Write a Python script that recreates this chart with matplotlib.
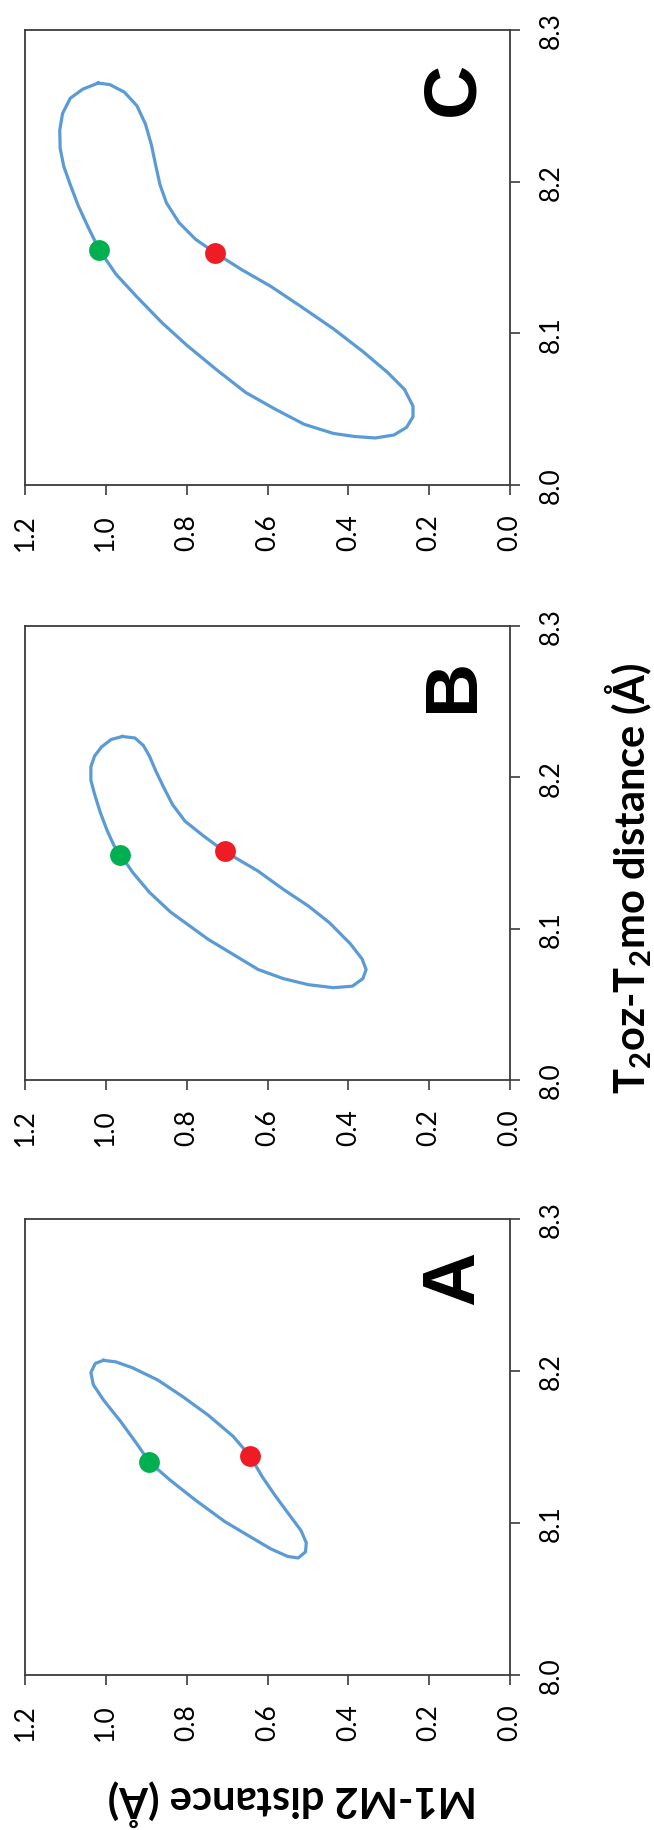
import matplotlib
matplotlib.use("Agg")
import matplotlib.pyplot as plt

plt.rcParams['font.family'] = ['Lato', 'DejaVu Sans']
plt.rcParams['mathtext.fontset'] = 'custom'
plt.rcParams['mathtext.rm'] = 'Lato'
plt.rcParams['mathtext.bf'] = 'Lato:bold'
plt.rcParams['mathtext.default'] = 'bf'

# Panel C: M1-M2 distance vs T2oz-T2mo distance
m1m2_c = [1.019, 1.057, 1.088, 1.107, 1.114, 1.113, 1.104, 1.088, 1.068, 1.042,
          1.016, 0.975, 0.923, 0.861, 0.799, 0.726, 0.654, 0.581, 0.509, 0.437,
          0.385, 0.333, 0.287, 0.256, 0.240, 0.240, 0.261, 0.302, 0.364, 0.437,
          0.519, 0.592, 0.664, 0.729, 0.778, 0.819, 0.850, 0.866, 0.876, 0.887,
          0.902, 0.923, 0.954, 0.990, 1.019]
tt_c = [8.265, 8.261, 8.255, 8.245, 8.234, 8.222, 8.210, 8.198, 8.184, 8.169,
        8.155, 8.139, 8.124, 8.107, 8.092, 8.076, 8.061, 8.050, 8.040, 8.034,
        8.032, 8.031, 8.033, 8.038, 8.045, 8.052, 8.063, 8.074, 8.088, 8.103,
        8.118, 8.131, 8.142, 8.153, 8.162, 8.173, 8.186, 8.198, 8.210, 8.224,
        8.238, 8.250, 8.259, 8.264, 8.265]

# Panel B
m1m2_b = [0.959, 0.987, 1.011, 1.028, 1.037, 1.037, 1.028, 1.014, 0.997, 0.980,
          0.964, 0.933, 0.892, 0.840, 0.809, 0.747, 0.685, 0.623, 0.561, 0.499,
          0.437, 0.390, 0.364, 0.356, 0.366, 0.395, 0.447, 0.499, 0.561, 0.623,
          0.706, 0.757, 0.804, 0.835, 0.858, 0.876, 0.892, 0.907, 0.928, 0.959]
tt_b = [8.227, 8.225, 8.220, 8.214, 8.207, 8.198, 8.189, 8.177, 8.165, 8.155,
        8.149, 8.137, 8.124, 8.111, 8.105, 8.093, 8.083, 8.073, 8.067, 8.063,
        8.061, 8.062, 8.067, 8.073, 8.080, 8.090, 8.104, 8.115, 8.126, 8.138,
        8.151, 8.161, 8.171, 8.182, 8.194, 8.204, 8.214, 8.221, 8.226, 8.227]

# Panel A
m1m2_a = [1.006, 1.026, 1.037, 1.031, 1.006, 0.964, 0.923, 0.892, 0.840, 0.778,
          0.706, 0.643, 0.592, 0.550, 0.524, 0.506, 0.504, 0.517, 0.545, 0.581,
          0.612, 0.643, 0.685, 0.747, 0.809, 0.871, 0.933, 0.975, 1.006]
tt_a = [8.207, 8.205, 8.199, 8.191, 8.181, 8.167, 8.152, 8.140, 8.128, 8.115,
        8.101, 8.091, 8.083, 8.078, 8.077, 8.081, 8.087, 8.095, 8.105, 8.118,
        8.130, 8.144, 8.157, 8.171, 8.183, 8.194, 8.202, 8.206, 8.207]

# start (green) and end (red) states per panel
green_pts = {'A': (0.892, 8.140), 'B': (0.964, 8.149), 'C': (1.016, 8.155)}
red_pts = {'A': (0.643, 8.144), 'B': (0.706, 8.151), 'C': (0.729, 8.153)}

m_ticks = [0.0, 0.2, 0.4, 0.6, 0.8, 1.0, 1.2]
t_ticks = [8.0, 8.1, 8.2, 8.3]

W, H = 654, 1831
fig = plt.figure(figsize=(W / 100, H / 100), dpi=100)

# panel boxes in pixels: left, top, right, bottom
boxes = {'C': (25, 31, 510, 486), 'B': (25, 627, 510, 1081), 'A': (25, 1220, 510, 1676)}
curves = {'C': (m1m2_c, tt_c), 'B': (m1m2_b, tt_b), 'A': (m1m2_a, tt_a)}

spine_col = '#3c3c3c'
for key in ['C', 'B', 'A']:
    l, t, r, b = boxes[key]
    ax = fig.add_axes([l / W, 1 - b / H, (r - l) / W, (b - t) / H])
    m, tt = curves[key]
    ax.plot(m, tt, color='#5b9bd5', lw=2.3, solid_joinstyle='round', zorder=2)
    ax.plot(*green_pts[key], 'o', color='#00b050', ms=15, mec='none', zorder=3)
    ax.plot(*red_pts[key], 'o', color='#ee1c25', ms=15, mec='none', zorder=3)

    ax.set_xlim(1.2, 0.0)
    ax.set_ylim(8.0, 8.3)
    ax.set_xticks(m_ticks)
    ax.set_xticklabels([f'{v:.1f}' for v in m_ticks], rotation=90)
    ax.set_yticks(t_ticks)
    ax.set_yticklabels([f'{v:.1f}' for v in t_ticks], rotation=90, va='center')
    ax.yaxis.tick_right()
    ax.tick_params(direction='out', length=7.5, width=1.2, color=spine_col,
                   labelsize=19, pad=13)
    for s in ax.spines.values():
        s.set_color(spine_col)
        s.set_linewidth(1.3)

    ax.text(0.14, 8.262, key, rotation=90, ha='center', va='center',
            fontsize=54, fontweight='bold', family='Liberation Sans')

fig.text(628 / W, 1 - 878 / H, r'T$_2$oz-T$_2$mo distance (Å)', rotation=90,
         ha='center', va='center', fontsize=30, fontweight='bold')
fig.text(292 / W, 1 - 1803 / H, 'M1-M2 distance (Å)', rotation=180,
         ha='center', va='center', fontsize=30, fontweight='bold')

fig.savefig('out.png', dpi=100)
